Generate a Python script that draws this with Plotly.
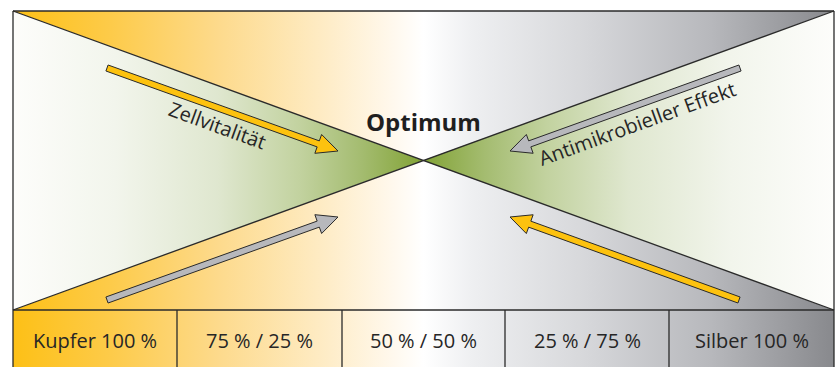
import math
import plotly.graph_objects as go

# ---- content ----
CELL_LABELS = ["Kupfer 100 %", "75 % / 25 %", "50 % / 50 %", "25 % / 75 %", "Silber 100 %"]
CELL_EDGES = [13, 177, 342, 505, 669, 834]
TITLE = "Optimum"
ARROW_LABELS = ["Zellvitalität", "Antimikrobieller Effekt"]

# ---- geometry (pixel space) ----
W, H = 835, 367
LEFT, RIGHT, TOP, MID_Y, TABLE_Y = 13, 834, 11, 160.5, 310
CX = 423

ARROW_TAILS = [(107, 68), (740, 68), (107, 300), (739, 300)]
ARROW_TIPS = [(338, 151), (510, 151), (338, 217), (510, 217)]
ARROW_FILLS = ["#fdc20f", "#b7b8bc", "#b7b8bc", "#fdc20f"]

CU_AG_SCALE = [[0.0, "#fdc016"], [0.12, "#fdcb4a"], [0.25, "#fdda8c"],
               [0.38, "#feecc6"], [0.46, "#fff8ec"], [0.5, "#ffffff"],
               [0.56, "#eeeff1"], [0.7, "#d6d7da"], [0.85, "#b7b8bc"],
               [1.0, "#88898d"]]
GREEN_SCALE = [[0.0, "#fdfdfb"], [0.25, "#f2f5ec"], [0.5, "#dfe7cf"],
               [0.7, "#c2d29f"], [0.85, "#a4bc70"], [1.0, "#82a336"]]
GREEN_SCALE_R = [[round(1 - p, 4), c] for p, c in reversed(GREEN_SCALE)]

OUTLINE = "#2a2a2a"
FONT = "Open Sans"

fig = go.Figure()


def poly(xs, ys, scale, start, stop, line_w=0):
    fig.add_trace(go.Scatter(
        x=xs + [xs[0]], y=ys + [ys[0]], mode="lines", fill="toself",
        fillgradient=dict(type="horizontal", colorscale=scale, start=start, stop=stop),
        line=dict(width=line_w, color=OUTLINE), hoverinfo="skip", showlegend=False))


# background triangles
poly([LEFT, RIGHT, CX], [TOP, TOP, MID_Y], CU_AG_SCALE, LEFT, RIGHT)
poly([LEFT, RIGHT, CX], [TABLE_Y, TABLE_Y, MID_Y], CU_AG_SCALE, LEFT, RIGHT)
poly([LEFT, CX, LEFT], [TOP, MID_Y, TABLE_Y], GREEN_SCALE, LEFT, CX)
poly([RIGHT, CX, RIGHT], [TOP, MID_Y, TABLE_Y], GREEN_SCALE_R, CX, RIGHT)

# table cells
for i, lab in enumerate(CELL_LABELS):
    x0, x1 = CELL_EDGES[i], CELL_EDGES[i + 1]
    poly([x0, x1, x1, x0], [TABLE_Y, TABLE_Y, H + 2, H + 2], CU_AG_SCALE, LEFT, RIGHT)
    fig.add_annotation(x=(x0 + x1) / 2, y=340, text=lab, showarrow=False,
                       xref="x", yref="y", font=dict(family=FONT, size=20, color="#262626"))

# outline lines
lines = [
    ([LEFT, LEFT], [TOP, H + 2]),
    ([LEFT, RIGHT], [TOP, TOP]),
    ([RIGHT, RIGHT], [TOP, H + 2]),
    ([LEFT, RIGHT], [TABLE_Y, TABLE_Y]),
    ([LEFT, RIGHT], [TOP, TABLE_Y]),
    ([LEFT, RIGHT], [TABLE_Y, TOP]),
]
for x in CELL_EDGES[1:-1]:
    lines.append(([x, x], [TABLE_Y, H + 2]))
for xs, ys in lines:
    fig.add_trace(go.Scatter(x=xs, y=ys, mode="lines", line=dict(color=OUTLINE, width=1.3),
                             hoverinfo="skip", showlegend=False))


# arrows
def arrow(tail, tip, fill, w=3.2, hl=21, hw=10):
    (x0, y0), (x1, y1) = tail, tip
    L = math.hypot(x1 - x0, y1 - y0)
    ux, uy = (x1 - x0) / L, (y1 - y0) / L
    nx, ny = -uy, ux
    bx, by = x1 - ux * hl, y1 - uy * hl
    pts = [(x0 + nx * w, y0 + ny * w), (bx + nx * w, by + ny * w), (bx + nx * hw, by + ny * hw),
           (x1, y1), (bx - nx * hw, by - ny * hw), (bx - nx * w, by - ny * w),
           (x0 - nx * w, y0 - ny * w), (x0 + nx * w, y0 + ny * w)]
    fig.add_trace(go.Scatter(x=[p[0] for p in pts], y=[p[1] for p in pts], mode="lines",
                             fill="toself", fillcolor=fill, line=dict(color=OUTLINE, width=1),
                             hoverinfo="skip", showlegend=False))


for t, p, c in zip(ARROW_TAILS, ARROW_TIPS, ARROW_FILLS):
    arrow(t, p, c)

fig.add_annotation(x=CX, y=121, text="<b>" + TITLE + "</b>", showarrow=False,
                   font=dict(family=FONT, size=24, color="#1f1f1f"))
fig.add_annotation(x=218, y=125, text=ARROW_LABELS[0], textangle=20, showarrow=False,
                   font=dict(family=FONT, size=20, color="#262626"))
fig.add_annotation(x=637, y=123, text=ARROW_LABELS[1], textangle=-20, showarrow=False,
                   font=dict(family=FONT, size=20, color="#262626"))

fig.update_layout(
    width=W, height=H, margin=dict(l=0, r=0, t=0, b=0),
    paper_bgcolor="white", plot_bgcolor="white",
    xaxis=dict(range=[0, W], visible=False, fixedrange=True),
    yaxis=dict(range=[H, 0], visible=False, fixedrange=True),
    showlegend=False,
)
fig.write_html("out.html")
